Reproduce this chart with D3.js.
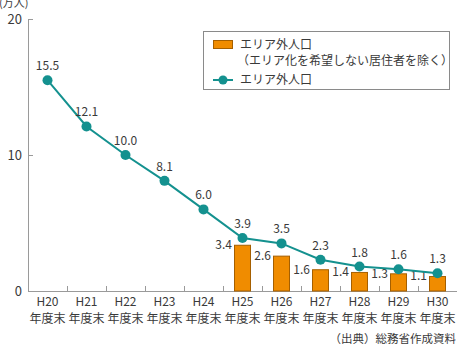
<!DOCTYPE html>
<html><head><meta charset="utf-8">
<script src="https://cdn.jsdelivr.net/npm/d3@7"></script>
<style>body{margin:0;background:#fff}svg{display:block}text{font-family:"Noto Sans CJK JP","Noto Sans",sans-serif;fill:#3a3a3a}</style>
</head><body><svg id="c" width="458" height="347"></svg>
<script>
const years = ["H20","H21","H22","H23","H24","H25","H26","H27","H28","H29","H30"];
const totalPop = [15.5,12.1,10.0,8.1,6.0,3.9,3.5,2.3,1.8,1.6,1.3];
const excludedPop = [null,null,null,null,null,3.4,2.6,1.6,1.4,1.3,1.1];
const yTicks = [0,10,20];

const svg = d3.select("#c");
const m = {l:28, r:457, t:19, b:291};
const x = d3.scaleBand().domain(years).range([m.l, m.r]);
const y = d3.scaleLinear().domain([0,20]).range([m.b, m.t]);
const axisCol = "#9a9a9a";

// y axis
svg.append("line").attr("x1",m.l+0.5).attr("x2",m.l+0.5).attr("y1",m.t).attr("y2",m.b).attr("stroke",axisCol);
yTicks.forEach(t=>{
  svg.append("line").attr("x1",m.l).attr("x2",m.l+5).attr("y1",Math.round(y(t))+0.5).attr("y2",Math.round(y(t))+0.5).attr("stroke",axisCol);
  svg.append("text").attr("x",m.l-6).attr("y",y(t)).attr("dy","0.38em").attr("text-anchor","end")
    .attr("font-family","'Noto Sans',sans-serif").attr("font-size",13).text(t);
});
svg.append("text").attr("x",-1).attr("y",7).attr("font-size",11).text("(万人)");

// x axis
svg.append("line").attr("x1",m.l).attr("x2",m.r).attr("y1",m.b+0.5).attr("y2",m.b+0.5).attr("stroke",axisCol);
years.forEach((yr,i)=>{
  if(i>0) svg.append("line").attr("x1",Math.round(x(yr))+0.5).attr("x2",Math.round(x(yr))+0.5).attr("y1",m.b-5).attr("y2",m.b).attr("stroke",axisCol);
  const cx = x(yr)+x.bandwidth()/2;
  svg.append("text").attr("x",cx).attr("y",306).attr("text-anchor","middle").attr("font-size",12).text(yr);
  svg.append("text").attr("x",cx).attr("y",323).attr("text-anchor","middle").attr("font-size",12).text("年度末");
});

// bars
const bw = 17;
years.forEach((yr,i)=>{
  const v = excludedPop[i];
  if(v==null) return;
  const cx = x(yr)+x.bandwidth()/2;
  svg.append("rect").attr("x",cx-bw/2+0.5).attr("y",y(v)+0.5).attr("width",bw-1).attr("height",m.b-y(v)-0.5)
    .attr("fill","#f08c00").attr("stroke","#a55f00").attr("stroke-width",1);
  svg.append("text").attr("x",cx-bw/2-2).attr("y",y(v)).attr("dy","0.36em").attr("text-anchor","end").attr("font-size",12).text(v.toFixed(1));
});

// line
const teal = "#14918f";
const line = d3.line().x((d,i)=>x(years[i])+x.bandwidth()/2).y(d=>y(d));
svg.append("path").datum(totalPop).attr("d",line).attr("fill","none").attr("stroke",teal).attr("stroke-width",2);
totalPop.forEach((v,i)=>{
  const cx = x(years[i])+x.bandwidth()/2;
  svg.append("circle").attr("cx",cx).attr("cy",y(v)).attr("r",5).attr("fill",teal);
  svg.append("text").attr("x",cx).attr("y",y(v)-10).attr("text-anchor","middle").attr("font-size",12).text(v.toFixed(1));
});

// legend
const lg = svg.append("g");
lg.append("rect").attr("x",203.5).attr("y",31.5).attr("width",246).attr("height",58).attr("fill","#fff").attr("stroke","#8a8a8a");
lg.append("rect").attr("x",213.5).attr("y",40.5).attr("width",19).attr("height",8).attr("fill","#f08c00").attr("stroke","#a55f00");
lg.append("text").attr("x",240).attr("y",49).attr("font-size",12).text("エリア外人口");
lg.append("text").attr("x",237).attr("y",65).attr("font-size",12).text("（エリア化を希望しない居住者を除く）");
lg.append("line").attr("x1",213).attr("x2",233).attr("y1",80).attr("y2",80).attr("stroke",teal).attr("stroke-width",2);
lg.append("circle").attr("cx",223).attr("cy",80).attr("r",4.5).attr("fill",teal);
lg.append("text").attr("x",240).attr("y",84).attr("font-size",12).text("エリア外人口");

svg.append("text").attr("x",456).attr("y",343).attr("text-anchor","end").attr("font-size",11.5).text("（出典）総務省作成資料");
</script></body></html>
